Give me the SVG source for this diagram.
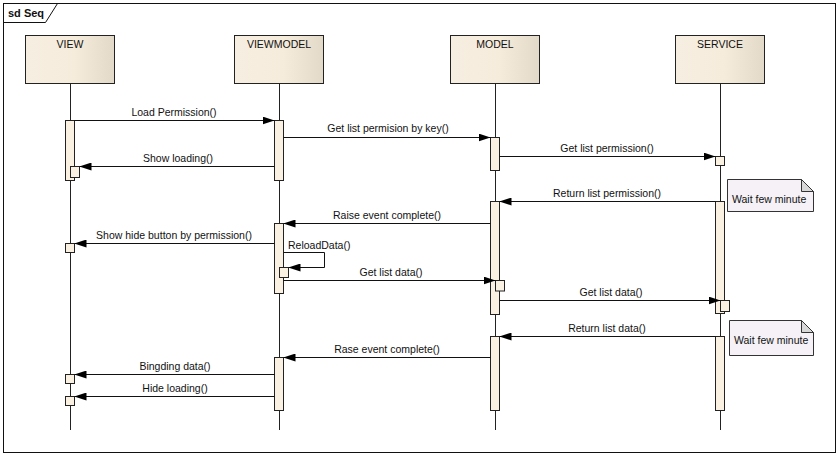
<svg xmlns="http://www.w3.org/2000/svg" width="839" height="456" viewBox="0 0 839 456">
<style>
text{font-family:"Liberation Sans",Arial,sans-serif;font-size:10.5px;fill:#111}
.hdr{fill:url(#g);stroke:#222;stroke-width:1}
.ll{stroke:#222;stroke-width:1}
.act{fill:#fbf1e3;stroke:#222;stroke-width:1}
.msg{stroke:#111;stroke-width:1;fill:none;marker-end:url(#ah)}
.mid{text-anchor:middle}
.note{fill:#f5f1f7;stroke:#333;stroke-width:1}
.fold{fill:#d8d8d8;stroke:#333;stroke-width:1}
</style>
<defs>
<linearGradient id="g" x1="0" y1="0" x2="1" y2="0">
<stop offset="0" stop-color="#f6eee1"/>
<stop offset="0.55" stop-color="#f6ecdc"/>
<stop offset="1" stop-color="#e2d9c8"/>
</linearGradient>
<marker id="ah" markerUnits="userSpaceOnUse" markerWidth="12" markerHeight="8" refX="12" refY="4" orient="auto">
<path d="M0,0 L12,4 L0,8 Z" fill="#000"/>
</marker>
</defs>
<rect width="839" height="456" fill="#fff"/>
<g id="frame">
<rect x="3.5" y="3.5" width="832" height="449" fill="none" stroke="#111"/>
<path d="M3.5,22.5 H45.5 L57.5,3.5" fill="none" stroke="#111"/>
<text x="8" y="17" style="font-weight:bold;font-size:11px">sd Seq</text>
</g>
<g id="view">
<rect class="hdr" x="25.5" y="35.5" width="89" height="48"/>
<text class="mid" x="70" y="48">VIEW</text>
<line class="ll" x1="70.5" y1="84" x2="70.5" y2="430"/>
<rect class="act" x="65.5" y="120.5" width="9" height="60"/>
<rect class="act" x="70.5" y="166.5" width="9" height="11"/>
<rect class="act" x="65.5" y="243.5" width="9" height="9"/>
<rect class="act" x="65.5" y="374.5" width="9" height="9"/>
<rect class="act" x="65.5" y="396.5" width="9" height="9"/>
</g>
<g id="viewmodel">
<rect class="hdr" x="234.5" y="35.5" width="89" height="48"/>
<text class="mid" x="279" y="48">VIEWMODEL</text>
<line class="ll" x1="279.5" y1="84" x2="279.5" y2="430"/>
<rect class="act" x="274.5" y="120.5" width="9" height="60"/>
<rect class="act" x="274.5" y="223.5" width="9" height="70"/>
<rect class="act" x="279.5" y="267.5" width="9" height="10"/>
<rect class="act" x="274.5" y="357.5" width="9" height="53"/>
</g>
<g id="model">
<rect class="hdr" x="450.5" y="35.5" width="89" height="48"/>
<text class="mid" x="495" y="48">MODEL</text>
<line class="ll" x1="495.5" y1="84" x2="495.5" y2="430"/>
<rect class="act" x="490.5" y="137.5" width="9" height="33"/>
<rect class="act" x="490.5" y="201.5" width="9" height="113"/>
<rect class="act" x="495.5" y="280.5" width="9" height="10.5"/>
<rect class="act" x="490.5" y="336.5" width="9" height="74"/>
</g>
<g id="service">
<rect class="hdr" x="675.5" y="35.5" width="89" height="48"/>
<text class="mid" x="720" y="48">SERVICE</text>
<line class="ll" x1="720.5" y1="84" x2="720.5" y2="430"/>
<rect class="act" x="715.5" y="156.5" width="9" height="9"/>
<rect class="act" x="715.5" y="201.5" width="9" height="112"/>
<rect class="act" x="720.5" y="300.5" width="9" height="11"/>
<rect class="act" x="715.5" y="336.5" width="9" height="74"/>
</g>
<g id="note1">
<path class="note" d="M727.5,179.5 H801.5 L813.5,191.5 V211.5 H727.5 Z"/>
<path class="fold" d="M801.5,179.5 V191.5 H813.5 Z"/>
<text x="732" y="203">Wait few minute</text>
</g>
<g id="note2">
<path class="note" d="M729.5,320.5 H801.5 L813.5,332.5 V355.5 H729.5 Z"/>
<path class="fold" d="M801.5,320.5 V332.5 H813.5 Z"/>
<text x="734" y="344">Wait few minute</text>
</g>
<g id="connectors">
<line class="msg" x1="74.5" y1="120.5" x2="274.5" y2="120.5"/>
<text class="mid" x="174" y="116">Load Permission()</text>
<line class="msg" x1="274.5" y1="166.5" x2="79.5" y2="166.5"/>
<text class="mid" x="178" y="162">Show loading()</text>
<line class="msg" x1="283.5" y1="137.5" x2="490.5" y2="137.5"/>
<text class="mid" x="388" y="132">Get list permision by key()</text>
<line class="msg" x1="499.5" y1="156.5" x2="715.5" y2="156.5"/>
<text class="mid" x="607" y="152">Get list permission()</text>
<line class="msg" x1="715.5" y1="201.5" x2="499.5" y2="201.5"/>
<text class="mid" x="607" y="197">Return list permission()</text>
<line class="msg" x1="490.5" y1="223.5" x2="283.5" y2="223.5"/>
<text class="mid" x="387" y="219">Raise event complete()</text>
<line class="msg" x1="274.5" y1="243.5" x2="74.5" y2="243.5"/>
<text class="mid" x="174" y="239">Show hide button by permission()</text>
<path class="msg" d="M283.5,252.5 H324.5 V267.5 H288.5"/>
<text x="288" y="249">ReloadData()</text>
<line class="msg" x1="283.5" y1="280.5" x2="495.5" y2="280.5"/>
<text class="mid" x="391" y="276">Get list data()</text>
<line class="msg" x1="499.5" y1="300.5" x2="720.5" y2="300.5"/>
<text class="mid" x="611" y="296">Get list data()</text>
<line class="msg" x1="715.5" y1="336.5" x2="499.5" y2="336.5"/>
<text class="mid" x="607" y="332">Return list data()</text>
<line class="msg" x1="490.5" y1="357.5" x2="283.5" y2="357.5"/>
<text class="mid" x="387" y="353">Rase event complete()</text>
<line class="msg" x1="274.5" y1="374.5" x2="74.5" y2="374.5"/>
<text class="mid" x="175" y="370">Bingding data()</text>
<line class="msg" x1="274.5" y1="396.5" x2="74.5" y2="396.5"/>
<text class="mid" x="175" y="392">Hide loading()</text>
</g>
</svg>
